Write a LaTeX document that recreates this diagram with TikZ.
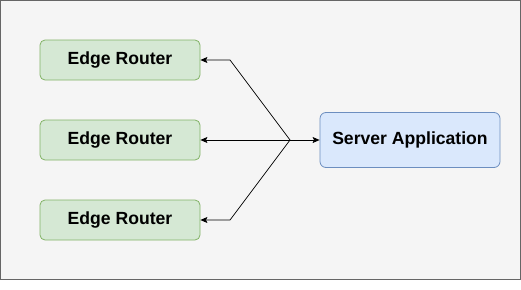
\documentclass[tikz,border=0pt]{standalone}
\usepackage{fontspec}
\setmainfont{Liberation Sans}
\usetikzlibrary{arrows.meta}
\definecolor{routerfill}{HTML}{D5E8D4}
\definecolor{routerline}{HTML}{82B366}
\definecolor{serverfill}{HTML}{DAE8FC}
\definecolor{serverline}{HTML}{6C8EBF}
\definecolor{panelfill}{HTML}{F5F5F5}
\definecolor{panelline}{HTML}{666666}
\tikzset{
  router/.style={draw=routerline, fill=routerfill, rounded corners=5pt, line width=0.8pt,
    minimum width=160pt, minimum height=40pt, font=\bfseries\fontsize{17.6}{20}\selectfont},
  server/.style={draw=serverline, fill=serverfill, rounded corners=6pt, line width=0.8pt,
    minimum width=180pt, minimum height=55pt, font=\bfseries\fontsize{17.6}{20}\selectfont},
  link/.style={line width=0.7pt}
}
\begin{document}
\begin{tikzpicture}[x=1pt, y=-1pt, >={Stealth[length=7pt, width=6pt, inset=1.5pt]}]
\useasboundingbox (0,0) rectangle (521,289);
\draw[fill=panelfill, draw=panelline, line width=1.2pt] (0.6,0.6) rectangle (520.4,279.6);
\node[router] (router1) at (120,60) {Edge Router};
\node[router] (router2) at (120,140) {Edge Router};
\node[router] (router3) at (120,220) {Edge Router};
\node[server] (server) at (410,140) {Server Application};
\coordinate (hub) at (290,140);
\coordinate (bend1) at (230,60);
\coordinate (bend3) at (230,220);
\draw[link, ->] (hub) -- (bend1) -- (router1);
\draw[link, ->] (hub) -- (router2);
\draw[link, ->] (hub) -- (bend3) -- (router3);
\draw[link, ->] (hub) -- (server);
\end{tikzpicture}
\end{document}
